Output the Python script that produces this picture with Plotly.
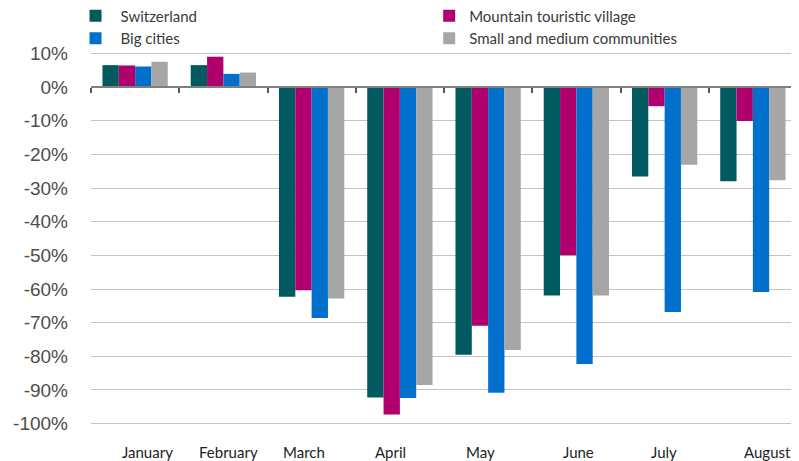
import plotly.graph_objects as go

months = ["January", "February", "March", "April", "May", "June", "July", "August"]
switzerland = [6.5, 6.5, -62.3, -92.2, -79.5, -61.9, -26.6, -28.0]
mountain = [6.4, 9.0, -60.4, -97.3, -70.9, -50.0, -5.7, -10.1]
big_cities = [6.1, 3.9, -68.6, -92.4, -90.8, -82.3, -66.8, -60.9]
small_medium = [7.5, 4.3, -62.8, -88.5, -78.1, -61.9, -23.1, -27.7]
y_ticks = [10, 0, -10, -20, -30, -40, -50, -60, -70, -80, -90, -100]

# label horizontal nudges (pixels) as in the original layout
label_shift = [12, 5, -8, -9, -8, 2, -1, 15]

series = [
    ("Switzerland", switzerland, "#005a5f", "legend"),
    ("Mountain touristic village", mountain, "#b0006e", "legend2"),
    ("Big cities", big_cities, "#0070cc", "legend"),
    ("Small and medium communities", small_medium, "#a6a6a6", "legend2"),
]

fig = go.Figure()
for name, vals, col, lg in series:
    fig.add_trace(go.Bar(x=months, y=vals, name=name, legend=lg,
                         marker=dict(color=col, line=dict(width=0))))

# invisible trace to carry the zero-line axis with boundary ticks
fig.add_trace(go.Scatter(x=months, y=[0] * len(months), xaxis="x2", mode="none",
                         showlegend=False, hoverinfo="skip"))

y_lo, y_hi = -100.4, 10.4
zero_pos = (0 - y_lo) / (y_hi - y_lo)

legend_font = dict(family="Lato, Open Sans, sans-serif", size=15, color="#3a3a3a")
legend_common = dict(orientation="v", yref="paper", y=1.141, yanchor="top",
                     xanchor="left", font=legend_font,
                     tracegroupgap=0, traceorder="normal", bgcolor="rgba(0,0,0,0)")

fig.update_layout(
    width=791, height=453,
    margin=dict(l=83, r=2, t=44, b=36, autoexpand=False),
    paper_bgcolor="white", plot_bgcolor="white",
    barmode="group", bargap=0.26, bargroupgap=0,
    legend=dict(x=-0.029, itemwidth=40, **legend_common),
    legend2=dict(x=0.479, itemwidth=30, **legend_common),
    xaxis=dict(type="category", categoryorder="array", categoryarray=months,
               range=[-0.5, 7.5], showline=False, showgrid=False, ticks="",
               showticklabels=False, automargin=False),
    xaxis2=dict(type="category", categoryorder="array", categoryarray=months,
                range=[-0.5, 7.5], overlaying="x", anchor="free", position=zero_pos,
                side="bottom", showline=True, linecolor="#7f7f7f", linewidth=1.5,
                ticks="outside", tickson="boundaries", ticklen=5, tickcolor="#555",
                tickwidth=1.5, showticklabels=False, showgrid=False, automargin=False),
    yaxis=dict(range=[y_lo, y_hi], tickmode="array", tickvals=y_ticks,
               ticktext=[f"{v}%" for v in y_ticks], showgrid=True,
               gridcolor="#c4c4c4", gridwidth=1, zeroline=False, showline=False,
               tickfont=dict(family="Liberation Sans, Arial, sans-serif", size=19, color="#4d4d4d"),
               ticklabelstandoff=22, automargin=False),
)

for m, dx in zip(months, label_shift):
    fig.add_annotation(x=m, xref="x", y=0, yref="paper", yanchor="top",
                       yshift=-16, xshift=dx, text=m, showarrow=False,
                       font=dict(family="Lato, Open Sans, sans-serif", size=15, color="#222"))

fig.write_html("out.html")
